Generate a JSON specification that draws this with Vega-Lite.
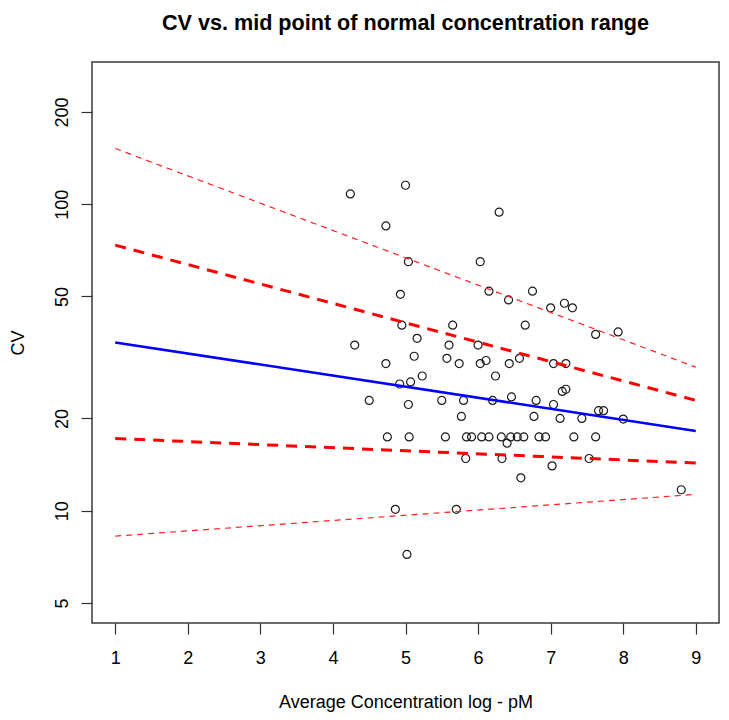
{
  "$schema": "https://vega.github.io/schema/vega-lite/v6.json",
  "width": 627,
  "height": 561,
  "autosize": {"type": "none"},
  "padding": {"left": 92, "top": 62, "right": 10, "bottom": 97},
  "background": "white",
  "config": {
    "view": {"stroke": "#3a3a3a", "strokeWidth": 1.5},
    "font": "Liberation Sans"
  },
  "title": {
    "text": "CV vs. mid point of normal concentration range",
    "font": "Liberation Sans",
    "fontSize": 21.6,
    "fontWeight": "bold",
    "color": "black",
    "anchor": "middle",
    "frame": "group",
    "baseline": "alphabetic",
    "offset": 10
  },
  "datasets": {
    "points": [
      {"x": 4.24, "cv": 108},
      {"x": 5.0, "cv": 115.3},
      {"x": 4.73, "cv": 84.9},
      {"x": 6.29, "cv": 94.2},
      {"x": 5.04, "cv": 64.9},
      {"x": 6.03, "cv": 64.9},
      {"x": 4.93, "cv": 50.8},
      {"x": 6.15, "cv": 52.0},
      {"x": 6.75, "cv": 52.0},
      {"x": 6.42, "cv": 48.7},
      {"x": 7.0, "cv": 45.9},
      {"x": 7.19, "cv": 47.5},
      {"x": 7.3, "cv": 45.9},
      {"x": 7.62, "cv": 37.6},
      {"x": 7.93, "cv": 38.3},
      {"x": 4.95, "cv": 40.3},
      {"x": 5.65, "cv": 40.3},
      {"x": 6.65, "cv": 40.3},
      {"x": 5.16, "cv": 36.5},
      {"x": 4.3, "cv": 34.7},
      {"x": 5.6, "cv": 34.7},
      {"x": 6.0, "cv": 34.7},
      {"x": 5.12, "cv": 31.9},
      {"x": 5.57, "cv": 31.4},
      {"x": 6.57, "cv": 31.4},
      {"x": 4.73, "cv": 30.2},
      {"x": 5.74, "cv": 30.2},
      {"x": 6.03, "cv": 30.2},
      {"x": 6.11, "cv": 30.9},
      {"x": 6.43, "cv": 30.2},
      {"x": 7.04, "cv": 30.2},
      {"x": 7.21, "cv": 30.2},
      {"x": 5.23, "cv": 27.5},
      {"x": 6.24, "cv": 27.5},
      {"x": 4.92, "cv": 25.9},
      {"x": 5.07, "cv": 26.3},
      {"x": 7.16, "cv": 24.5},
      {"x": 7.21, "cv": 24.9},
      {"x": 4.5, "cv": 22.9},
      {"x": 5.04, "cv": 22.2},
      {"x": 5.5, "cv": 22.9},
      {"x": 5.8, "cv": 22.9},
      {"x": 6.2, "cv": 22.9},
      {"x": 6.46, "cv": 23.5},
      {"x": 6.8, "cv": 22.9},
      {"x": 7.04, "cv": 22.2},
      {"x": 5.77, "cv": 20.3},
      {"x": 6.77, "cv": 20.3},
      {"x": 7.13, "cv": 20.0},
      {"x": 7.43, "cv": 20.0},
      {"x": 7.66, "cv": 21.2},
      {"x": 7.73, "cv": 21.2},
      {"x": 8.0, "cv": 19.9},
      {"x": 4.75, "cv": 17.4},
      {"x": 5.05, "cv": 17.4},
      {"x": 5.55, "cv": 17.4},
      {"x": 5.84, "cv": 17.4},
      {"x": 5.91, "cv": 17.4},
      {"x": 6.05, "cv": 17.4},
      {"x": 6.15, "cv": 17.4},
      {"x": 6.32, "cv": 17.4},
      {"x": 6.45, "cv": 17.4},
      {"x": 6.54, "cv": 17.4},
      {"x": 6.63, "cv": 17.4},
      {"x": 6.84, "cv": 17.4},
      {"x": 6.93, "cv": 17.4},
      {"x": 7.32, "cv": 17.4},
      {"x": 7.62, "cv": 17.4},
      {"x": 6.4, "cv": 16.6},
      {"x": 5.83, "cv": 14.8},
      {"x": 6.33, "cv": 14.8},
      {"x": 7.02, "cv": 14.0},
      {"x": 7.53, "cv": 14.8},
      {"x": 6.59, "cv": 12.8},
      {"x": 8.8, "cv": 11.7},
      {"x": 4.86, "cv": 10.1},
      {"x": 5.7, "cv": 10.1},
      {"x": 5.02, "cv": 7.2}
    ],
    "lines": [
      {"x": 1, "cv": 35.4, "series": "fit"},
      {"x": 9, "cv": 18.2, "series": "fit"},
      {"x": 1, "cv": 73.5, "series": "ci_hi"},
      {"x": 9, "cv": 22.9, "series": "ci_hi"},
      {"x": 1, "cv": 17.2, "series": "ci_lo"},
      {"x": 9, "cv": 14.3, "series": "ci_lo"},
      {"x": 1, "cv": 152, "series": "pi_hi"},
      {"x": 9, "cv": 29.4, "series": "pi_hi"},
      {"x": 1, "cv": 8.26, "series": "pi_lo"},
      {"x": 9, "cv": 11.3, "series": "pi_lo"}
    ]
  },
  "encoding": {
    "x": {
      "field": "x",
      "type": "quantitative",
      "scale": {"domain": [0.68, 9.32], "nice": false, "zero": false},
      "axis": {
        "values": [1, 2, 3, 4, 5, 6, 7, 8, 9],
        "title": "Average Concentration log - pM",
        "grid": false,
        "domain": false,
        "tickSize": 11,
        "tickColor": "#333333",
        "tickWidth": 1.2,
        "labelFont": "Liberation Sans",
        "labelFontSize": 18,
        "labelColor": "black",
        "labelPadding": 29.5,
        "labelBaseline": "alphabetic",
        "labelFlush": false,
        "labelOverlap": false,
        "titleFont": "Liberation Sans",
        "titleFontSize": 18,
        "titleFontWeight": "normal",
        "titleColor": "black",
        "titleBaseline": "alphabetic",
        "titleY": 84.6
      }
    },
    "y": {
      "field": "cv",
      "type": "quantitative",
      "scale": {"type": "log", "domain": [4.3, 291], "nice": false, "zero": false},
      "axis": {
        "values": [5, 10, 20, 50, 100, 200],
        "format": "d",
        "title": "CV",
        "grid": false,
        "domain": false,
        "tickSize": 11,
        "tickColor": "#333333",
        "tickWidth": 1.2,
        "labelAngle": 270,
        "labelAlign": "center",
        "labelBaseline": "alphabetic",
        "labelFont": "Liberation Sans",
        "labelFontSize": 18,
        "labelColor": "black",
        "labelPadding": 13.5,
        "labelFlush": false,
        "labelOverlap": false,
        "titleFont": "Liberation Sans",
        "titleFontSize": 18,
        "titleFontWeight": "normal",
        "titleColor": "black",
        "titleAngle": 270,
        "titleAlign": "center",
        "titleBaseline": "alphabetic",
        "titleX": -69,
        "titleY": 280.5
      }
    }
  },
  "layer": [
    {
      "data": {"name": "points"},
      "mark": {"type": "point", "shape": "circle", "filled": false, "size": 64, "stroke": "#1a1a1a", "strokeWidth": 1.2, "opacity": 1}
    },
    {
      "data": {"name": "lines"},
      "transform": [{"filter": "datum.series == 'fit'"}],
      "mark": {"type": "line", "color": "#0000ff", "strokeWidth": 2.5},
      "encoding": {"detail": {"field": "series"}}
    },
    {
      "data": {"name": "lines"},
      "transform": [{"filter": "datum.series == 'ci_hi' || datum.series == 'ci_lo'"}],
      "mark": {"type": "line", "color": "#ff0000", "strokeWidth": 3, "strokeDash": [11, 8]},
      "encoding": {"detail": {"field": "series"}}
    },
    {
      "data": {"name": "lines"},
      "transform": [{"filter": "datum.series == 'pi_hi' || datum.series == 'pi_lo'"}],
      "mark": {"type": "line", "color": "#ff2020", "strokeWidth": 1.2, "strokeDash": [6, 5]},
      "encoding": {"detail": {"field": "series"}}
    }
  ]
}
